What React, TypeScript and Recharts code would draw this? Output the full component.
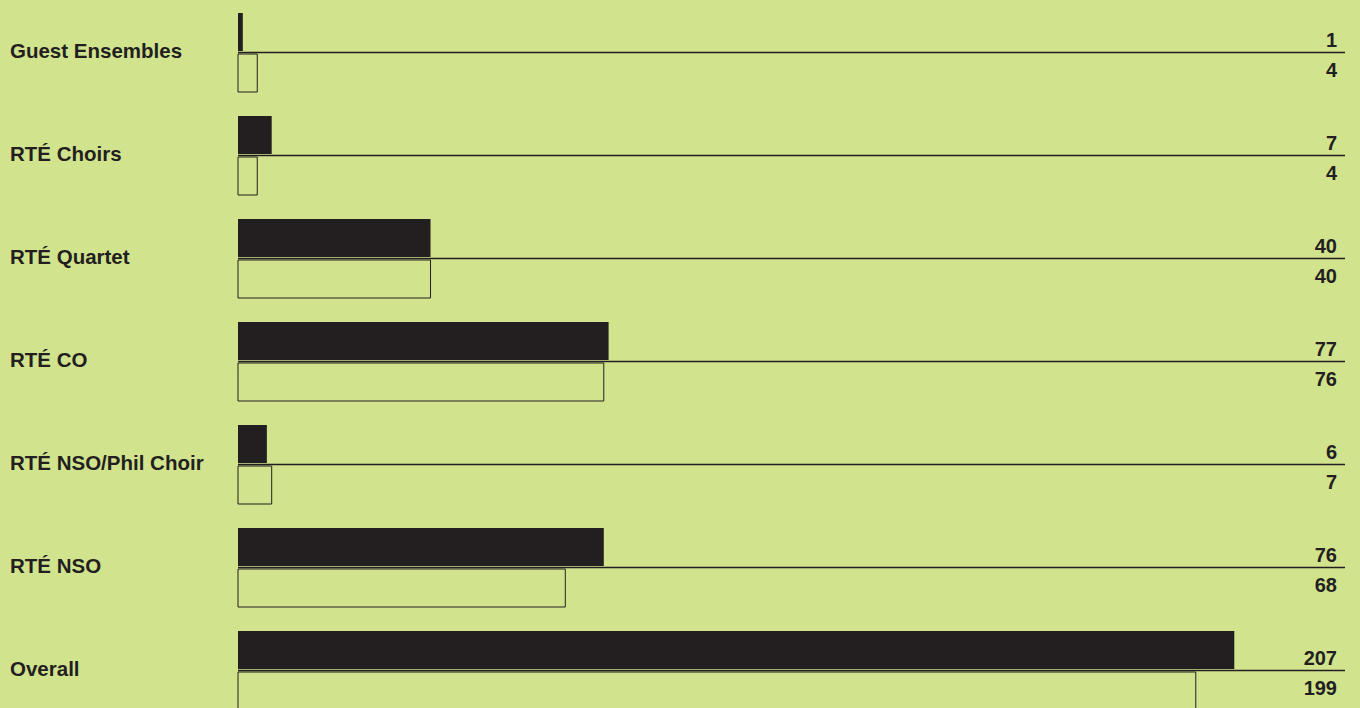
import React from 'react';
import { BarChart, Bar, XAxis, YAxis, ReferenceLine, LabelList } from 'recharts';

// Ensembles, top to bottom
const categories = [
  'Guest Ensembles',
  'RTÉ Choirs',
  'RTÉ Quartet',
  'RTÉ CO',
  'RTÉ NSO/Phil Choir',
  'RTÉ NSO',
  'Overall',
];
const currentValues = [1, 7, 40, 77, 6, 76, 207];
const previousValues = [4, 4, 40, 76, 7, 68, 199];

const BG = '#d2e38e';
const INK = '#231f20';
const FONT = '"Liberation Sans", Arial, sans-serif';

const CHART_W = 1360;
const CHART_H = 722;
const MARGIN = { top: 1, right: 15, bottom: 0, left: 0 };
const LABEL_X = CHART_W - MARGIN.right - 8;

const data = categories.map((name, i) => ({
  name,
  current: currentValues[i],
  previous: previousValues[i],
}));

const CategoryTick = (props: any) => {
  const { y, payload } = props;
  return (
    <text x={10} y={y + 5} textAnchor="start" fill={INK} fontSize={20.5} fontWeight={700} fontFamily={FONT}>
      {payload.value}
    </text>
  );
};

const TopValue = (props: any) => {
  const { y, height, value } = props;
  return (
    <text x={LABEL_X} y={y + height - 4.5} textAnchor="end" fill={INK} fontSize={20} fontWeight={700} fontFamily={FONT}>
      {value}
    </text>
  );
};

const BottomValue = (props: any) => {
  const { y, value } = props;
  return (
    <text x={LABEL_X} y={y + 22.5} textAnchor="end" fill={INK} fontSize={20} fontWeight={700} fontFamily={FONT}>
      {value}
    </text>
  );
};

export default function App() {
  return (
    <div
      style={{
        position: 'absolute',
        top: 0,
        left: 0,
        width: 1360,
        height: 708,
        overflow: 'hidden',
        background: BG,
      }}
    >
      <BarChart
        width={CHART_W}
        height={CHART_H}
        data={data}
        layout="vertical"
        margin={MARGIN}
        barSize={38}
        barGap={3}
      >
        <XAxis type="number" domain={[0, 230]} hide />
        <YAxis
          type="category"
          dataKey="name"
          width={238}
          axisLine={false}
          tickLine={false}
          tick={<CategoryTick />}
          interval={0}
        />
        {categories.map((c) => (
          <ReferenceLine key={c} y={c} stroke={INK} strokeWidth={1.3} ifOverflow="visible" />
        ))}
        <Bar dataKey="current" fill={INK} isAnimationActive={false}>
          <LabelList dataKey="current" content={<TopValue />} />
        </Bar>
        <Bar dataKey="previous" fill="none" stroke={INK} strokeWidth={1} isAnimationActive={false}>
          <LabelList dataKey="previous" content={<BottomValue />} />
        </Bar>
      </BarChart>
    </div>
  );
}
